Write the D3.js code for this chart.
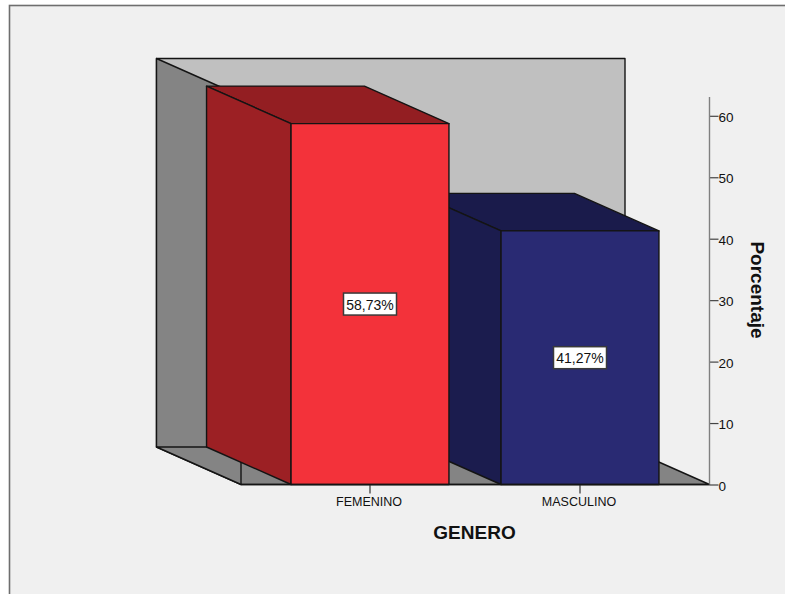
<!DOCTYPE html>
<html>
<head>
<meta charset="utf-8">
<script src="https://cdn.jsdelivr.net/npm/d3@7"></script>
<style>
  html, body { margin: 0; padding: 0; background: #ffffff; }
  svg { display: block; }
  text { font-family: "Liberation Sans", Arial, sans-serif; fill: #111; }
</style>
</head>
<body>
<svg id="chart" width="785" height="594"></svg>
<script>
const categories = ["FEMENINO", "MASCULINO"];
const percentages = [58.73, 41.27];
const valueLabels = ["58,73%", "41,27%"];
const yTicks = [0, 10, 20, 30, 40, 50, 60];
const barFronts = ["#f3323a", "#292a73"];
const barSides = ["#9c2024", "#1b1c4e"];
const barTops = ["#931e22", "#1a1b4b"];

const svg = d3.select("#chart");

// Front plane of the 3D box and the oblique depth offset
const plot = { left: 241, right: 709.5, top: 96, bottom: 484.5 };
const depth = { dx: -84.5, dy: -37.5 };
const EDGE = "#141414";

const y = d3.scaleLinear().domain([0, 60]).range([plot.bottom, 115.8]);
const x = d3.scaleBand().domain(categories).range([265, 685])
  .paddingInner(0.248).paddingOuter(0.124);

const poly = (pts, fill, stroke = EDGE, sw = 1.4) =>
  svg.append("polygon")
    .attr("points", pts.map(p => p.join(",")).join(" "))
    .attr("fill", fill).attr("stroke", stroke).attr("stroke-width", sw)
    .attr("stroke-linejoin", "round");

// Outer panel, open on the right and bottom where it runs off the page
svg.append("rect").attr("x", 9.5).attr("y", 5.5).attr("width", 800).attr("height", 620)
  .attr("fill", "#f0f0f0").attr("stroke", "#6e6e6e").attr("stroke-width", 1.6);

// Box walls
const bl = [plot.left + depth.dx, plot.bottom + depth.dy];
const br = [plot.right + depth.dx, plot.bottom + depth.dy];
const tl = [plot.left + depth.dx, plot.top + depth.dy];
const tr = [plot.right + depth.dx, plot.top + depth.dy];
poly([tl, tr, br, bl], "#c0c0c0");
poly([tl, [plot.left, plot.top], [plot.left, plot.bottom], bl], "#848484");
poly([bl, br, [plot.right, plot.bottom], [plot.left, plot.bottom]], "#848484");
svg.append("line").attr("x1", plot.left).attr("x2", plot.left)
  .attr("y1", plot.top).attr("y2", plot.bottom)
  .attr("stroke", EDGE).attr("stroke-width", 1.4);

// Bars, drawn far to near so the taller bar overlaps its neighbour
d3.range(categories.length).reverse().forEach(i => {
  const x0 = x(categories[i]), x1 = x0 + x.bandwidth();
  const yTop = y(percentages[i]), yBase = y(0);
  const d = depth;
  poly([[x0 + d.dx, yTop + d.dy], [x1 + d.dx, yTop + d.dy], [x1, yTop], [x0, yTop]], barTops[i]);
  poly([[x0 + d.dx, yTop + d.dy], [x0, yTop], [x0, yBase], [x0 + d.dx, yBase + d.dy]], barSides[i]);
  poly([[x0, yTop], [x1, yTop], [x1, yBase], [x0, yBase]], barFronts[i]);
});

// Floor front edge and category axis
const xAxis = d3.axisBottom(x).tickSize(9).tickPadding(4).tickSizeOuter(0);
const xg = svg.append("g").attr("transform", `translate(0,${plot.bottom})`).call(xAxis);
xg.select(".domain").remove();
xg.selectAll(".tick line").attr("stroke", "#333").attr("stroke-width", 1.2);
xg.selectAll("text").attr("font-size", 12.5).attr("font-family", "Liberation Sans")
  .attr("fill", "#222").attr("dx", -1);
svg.append("line").attr("x1", plot.left).attr("x2", plot.right)
  .attr("y1", plot.bottom).attr("y2", plot.bottom)
  .attr("stroke", EDGE).attr("stroke-width", 1.4);

// Value axis on the right
const yAxis = d3.axisRight(y).tickValues(yTicks).tickSize(9).tickPadding(0);
const yg = svg.append("g").attr("transform", `translate(${plot.right},0)`).call(yAxis);
yg.select(".domain").remove();
yg.selectAll(".tick line").attr("stroke", "#444").attr("stroke-width", 1.2);
yg.selectAll("text").attr("font-size", 13.5).attr("font-family", "Liberation Sans")
  .attr("fill", "#222").attr("dy", "0.42em");
svg.append("line").attr("x1", plot.right).attr("x2", plot.right)
  .attr("y1", 97).attr("y2", plot.bottom)
  .attr("stroke", "#808080").attr("stroke-width", 1.4);

// Value labels in the middle of each bar's front face
categories.forEach((c, i) => {
  const cx = x(c) + x.bandwidth() / 2;
  const cy = y(percentages[i] / 2);
  svg.append("rect").attr("x", cx - 26.5).attr("y", cy - 11).attr("width", 53).attr("height", 22)
    .attr("fill", "#fff").attr("stroke", "#3a3a3a").attr("stroke-width", 1.5);
  svg.append("text").attr("x", cx).attr("y", cy + 5.5)
    .attr("text-anchor", "middle").attr("font-size", 14).text(valueLabels[i]);
});

// Axis titles
svg.append("text").attr("x", 474.5).attr("y", 539)
  .attr("text-anchor", "middle").attr("font-size", 19).attr("font-weight", "bold").text("GENERO");
svg.append("text").attr("transform", "translate(750.5,290) rotate(90)")
  .attr("text-anchor", "middle").attr("font-size", 19).attr("font-weight", "bold").text("Porcentaje");
</script>
</body>
</html>
